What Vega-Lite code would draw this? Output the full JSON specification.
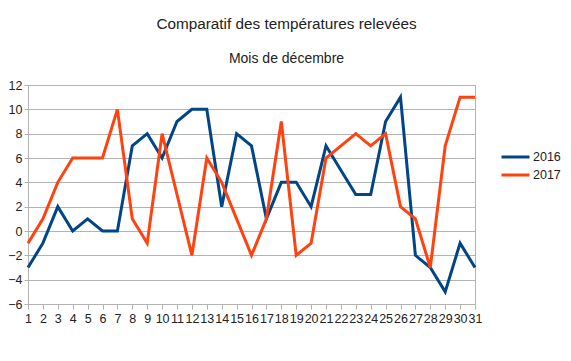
{
  "$schema": "https://vega.github.io/schema/vega-lite/v6.json",
  "autosize": {"type": "none"},
  "width": 447,
  "height": 219,
  "padding": {"left": 28, "top": 85, "right": 96, "bottom": 57},
  "background": "white",
  "title": {
    "text": "Comparatif des températures relevées",
    "subtitle": "Mois de décembre",
    "anchor": "middle",
    "dx": 35,
    "offset": 13,
    "fontSize": 15.3,
    "fontWeight": "normal",
    "font": "Liberation Sans",
    "color": "#222222",
    "subtitleFontSize": 14,
    "subtitleFont": "Liberation Sans",
    "subtitleColor": "#222222",
    "subtitlePadding": 20
  },
  "data": {
    "values": [
      {"jour": 1, "annee": "2016", "temp": -3}, {"jour": 2, "annee": "2016", "temp": -1},
      {"jour": 3, "annee": "2016", "temp": 2}, {"jour": 4, "annee": "2016", "temp": 0},
      {"jour": 5, "annee": "2016", "temp": 1}, {"jour": 6, "annee": "2016", "temp": 0},
      {"jour": 7, "annee": "2016", "temp": 0}, {"jour": 8, "annee": "2016", "temp": 7},
      {"jour": 9, "annee": "2016", "temp": 8}, {"jour": 10, "annee": "2016", "temp": 6},
      {"jour": 11, "annee": "2016", "temp": 9}, {"jour": 12, "annee": "2016", "temp": 10},
      {"jour": 13, "annee": "2016", "temp": 10}, {"jour": 14, "annee": "2016", "temp": 2},
      {"jour": 15, "annee": "2016", "temp": 8}, {"jour": 16, "annee": "2016", "temp": 7},
      {"jour": 17, "annee": "2016", "temp": 1}, {"jour": 18, "annee": "2016", "temp": 4},
      {"jour": 19, "annee": "2016", "temp": 4}, {"jour": 20, "annee": "2016", "temp": 2},
      {"jour": 21, "annee": "2016", "temp": 7}, {"jour": 22, "annee": "2016", "temp": 5},
      {"jour": 23, "annee": "2016", "temp": 3}, {"jour": 24, "annee": "2016", "temp": 3},
      {"jour": 25, "annee": "2016", "temp": 9}, {"jour": 26, "annee": "2016", "temp": 11},
      {"jour": 27, "annee": "2016", "temp": -2}, {"jour": 28, "annee": "2016", "temp": -3},
      {"jour": 29, "annee": "2016", "temp": -5}, {"jour": 30, "annee": "2016", "temp": -1},
      {"jour": 31, "annee": "2016", "temp": -3},
      {"jour": 1, "annee": "2017", "temp": -1}, {"jour": 2, "annee": "2017", "temp": 1},
      {"jour": 3, "annee": "2017", "temp": 4}, {"jour": 4, "annee": "2017", "temp": 6},
      {"jour": 5, "annee": "2017", "temp": 6}, {"jour": 6, "annee": "2017", "temp": 6},
      {"jour": 7, "annee": "2017", "temp": 10}, {"jour": 8, "annee": "2017", "temp": 1},
      {"jour": 9, "annee": "2017", "temp": -1}, {"jour": 10, "annee": "2017", "temp": 8},
      {"jour": 11, "annee": "2017", "temp": 3}, {"jour": 12, "annee": "2017", "temp": -2},
      {"jour": 13, "annee": "2017", "temp": 6}, {"jour": 14, "annee": "2017", "temp": 4},
      {"jour": 15, "annee": "2017", "temp": 1}, {"jour": 16, "annee": "2017", "temp": -2},
      {"jour": 17, "annee": "2017", "temp": 1}, {"jour": 18, "annee": "2017", "temp": 9},
      {"jour": 19, "annee": "2017", "temp": -2}, {"jour": 20, "annee": "2017", "temp": -1},
      {"jour": 21, "annee": "2017", "temp": 6}, {"jour": 22, "annee": "2017", "temp": 7},
      {"jour": 23, "annee": "2017", "temp": 8}, {"jour": 24, "annee": "2017", "temp": 7},
      {"jour": 25, "annee": "2017", "temp": 8}, {"jour": 26, "annee": "2017", "temp": 2},
      {"jour": 27, "annee": "2017", "temp": 1}, {"jour": 28, "annee": "2017", "temp": -3},
      {"jour": 29, "annee": "2017", "temp": 7}, {"jour": 30, "annee": "2017", "temp": 11},
      {"jour": 31, "annee": "2017", "temp": 11}
    ]
  },
  "mark": {"type": "line", "strokeWidth": 3, "strokeJoin": "miter"},
  "encoding": {
    "x": {
      "field": "jour",
      "type": "ordinal",
      "sort": "ascending",
      "scale": {"type": "point", "padding": 0},
      "axis": {
        "title": null,
        "labelAngle": 0,
        "labelOverlap": false,
        "labelFontSize": 12.5,
        "labelFont": "Liberation Sans",
        "labelColor": "#222222",
        "labelPadding": 3,
        "tickSize": 5,
        "tickColor": "#b3b3b3",
        "domainColor": "#b3b3b3",
        "grid": false
      }
    },
    "y": {
      "field": "temp",
      "type": "quantitative",
      "scale": {"domain": [-6, 12], "nice": false, "zero": false},
      "axis": {
        "title": null,
        "values": [-6, -4, -2, 0, 2, 4, 6, 8, 10, 12],
        "labelFontSize": 12.5,
        "labelFont": "Liberation Sans",
        "labelColor": "#222222",
        "labelPadding": 2,
        "tickSize": 4,
        "tickColor": "#b3b3b3",
        "domainColor": "#b3b3b3",
        "grid": true,
        "gridColor": "#b3b3b3",
        "gridOpacity": 1
      }
    },
    "color": {
      "field": "annee",
      "type": "nominal",
      "scale": {"domain": ["2016", "2017"], "range": ["#004586", "#ff420e"]},
      "legend": {
        "title": null,
        "orient": "none",
        "legendX": 472,
        "legendY": 63,
        "symbolType": "stroke",
        "symbolSize": 784,
        "symbolStrokeWidth": 3,
        "clipHeight": 18,
        "labelFontSize": 12.5,
        "labelFont": "Liberation Sans",
        "labelColor": "#222222",
        "labelOffset": 2,
        "rowPadding": 0
      }
    }
  },
  "config": {
    "view": {"stroke": "#b3b3b3"}
  }
}
